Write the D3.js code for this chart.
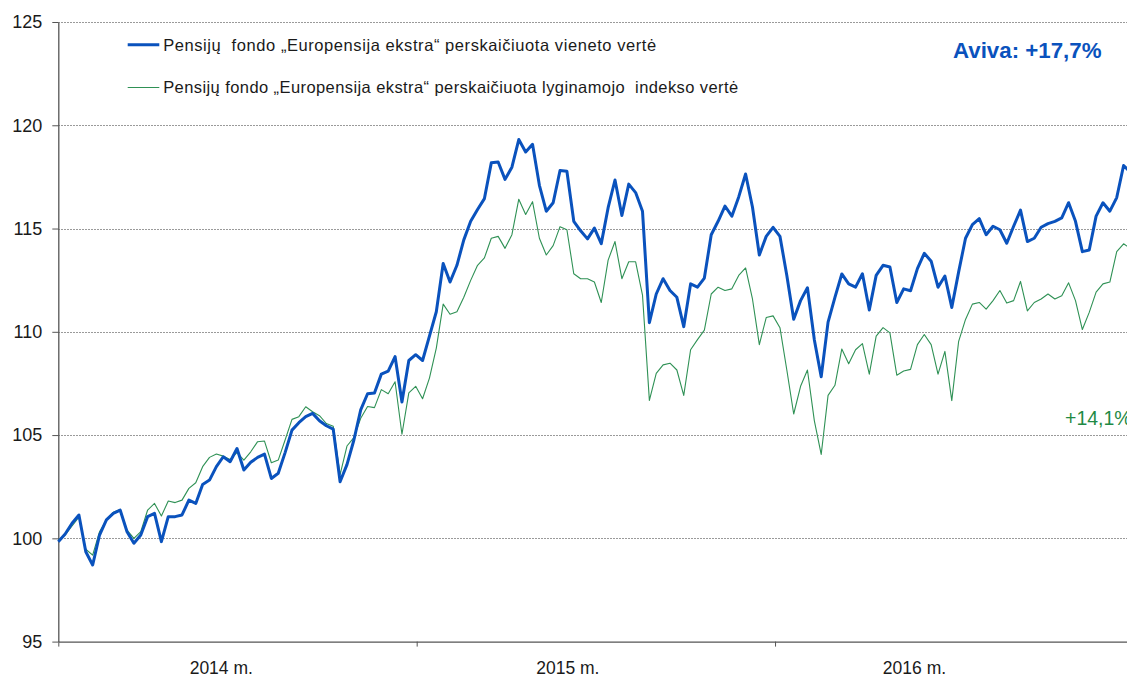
<!DOCTYPE html>
<html>
<head>
<meta charset="utf-8">
<script src="https://cdn.jsdelivr.net/npm/d3@7"></script>
<style>
  body { margin: 0; background: #fff; }
  svg { display: block; font-family: "Liberation Sans", Arial, sans-serif; }
</style>
</head>
<body>
<svg id="chart"></svg>
<script>
// weekly values, first week starts 2014-01-01
const startDate = new Date(2014, 0, 1);
const stepDays = 7;

// fund unit value (blue)
const fundValues = [
  99.84, 100.21, 100.73, 101.13, 99.35, 98.71, 100.16, 100.89, 101.21, 101.37,
  100.32, 99.76, 100.16, 101.05, 101.21, 99.84, 101.05, 101.05, 101.13, 101.85,
  101.69, 102.61, 102.82, 103.47, 103.95, 103.71, 104.35, 103.31, 103.68, 103.92,
  104.08, 102.90, 103.15, 104.15, 105.24, 105.60, 105.89, 106.05, 105.69, 105.45,
  105.29, 102.74, 103.57, 104.75, 106.22, 107.00, 107.04, 107.95, 108.10, 108.80,
  106.60, 108.61, 108.89, 108.61, 109.79, 110.97, 113.31, 112.41, 113.22, 114.45,
  115.35, 115.92, 116.45, 118.18, 118.22, 117.38, 117.97, 119.31, 118.71, 119.08,
  117.09, 115.84, 116.25, 117.81, 117.77, 115.35, 114.89, 114.50, 115.02, 114.27,
  116.01, 117.35, 115.63, 117.15, 116.74, 115.84, 110.44, 111.83, 112.57, 112.00,
  111.67, 110.25, 112.32, 112.16, 112.60, 114.70, 115.35, 116.09, 115.60, 116.53,
  117.64, 116.04, 113.72, 114.62, 115.06, 114.62, 112.73, 110.61, 111.51, 112.13,
  109.62, 107.82, 110.47, 111.67, 112.80, 112.32, 112.16, 112.81, 111.06, 112.73,
  113.22, 113.14, 111.42, 112.08, 111.99, 113.06, 113.80, 113.42, 112.16, 112.70,
  111.18, 112.90, 114.53, 115.19, 115.48, 114.70, 115.11, 114.94, 114.29, 115.11,
  115.89, 114.37, 114.53, 115.06, 115.24, 115.35, 115.52, 116.25, 115.35, 113.88,
  113.96, 115.60, 116.25, 115.84, 116.50, 118.05, 117.72
];

// benchmark index value (green)
const indexValues = [
  99.92, 100.16, 100.60, 101.02, 99.47, 99.19, 100.32, 100.89, 101.26, 101.40,
  100.40, 100.00, 100.32, 101.37, 101.69, 101.08, 101.81, 101.73, 101.85, 102.42,
  102.69, 103.47, 103.92, 104.08, 103.98, 103.82, 104.15, 103.79, 104.19, 104.68,
  104.71, 103.66, 103.79, 104.76, 105.76, 105.89, 106.37, 106.13, 105.94, 105.56,
  105.43, 103.08, 104.47, 104.88, 105.81, 106.38, 106.33, 107.20, 107.00, 107.58,
  105.04, 107.04, 107.36, 106.76, 107.76, 109.21, 111.34, 110.85, 110.97, 111.67,
  112.49, 113.22, 113.58, 114.53, 114.62, 114.04, 114.70, 116.42, 115.68, 116.30,
  114.53, 113.72, 114.17, 115.09, 114.94, 112.81, 112.57, 112.57, 112.41, 111.42,
  113.47, 114.37, 112.57, 113.39, 113.39, 111.78, 106.68, 107.99, 108.40, 108.48,
  108.15, 106.92, 109.13, 109.62, 110.08, 111.83, 112.16, 112.00, 112.08, 112.73,
  113.09, 111.59, 109.38, 110.69, 110.77, 110.20, 108.15, 106.02, 107.36, 108.15,
  105.70, 104.06, 106.92, 107.41, 109.17, 108.45, 109.13, 109.43, 107.95, 109.79,
  110.20, 109.95, 107.90, 108.10, 108.18, 109.38, 109.87, 109.38, 107.95, 109.05,
  106.67, 109.54, 110.60, 111.34, 111.42, 111.10, 111.51, 112.00, 111.39, 111.51,
  112.44, 111.01, 111.42, 111.59, 111.83, 111.59, 111.75, 112.37, 111.51, 110.11,
  110.94, 111.92, 112.32, 112.41, 113.88, 114.26, 114.04
];

const yTicks = [95, 100, 105, 110, 115, 120, 125];
const yearTicks = ["2014-01-01", "2015-01-01", "2016-01-01", "2017-01-01"];
const yearLabels = ["2014 m.", "2015 m.", "2016 m."];
const yearLabelDates = ["2014-06-16", "2015-06-04", "2016-05-22"];

const seriesNames = [
  "Pensijų  fondo „Europensija ekstra“ perskaičiuota vieneto vertė",
  "Pensijų fondo „Europensija ekstra“ perskaičiuota lyginamojo  indekso vertė"
];
const endNotes = ["Aviva: +17,7%", "+14,1%"];

const width = 1127, height = 677;
const margin = ({top: 22, right: 0, bottom: 35.4, left: 58.3});
const blueColor = "#0a52bd";
const greenColor = "#2f9155";
const axisColor = "#555";

const parse = d3.timeParse("%Y-%m-%d");
const dates = fundValues.map((v, i) => d3.timeDay.offset(startDate, i * stepDays));

const svg = d3.select("#chart")
    .attr("width", width)
    .attr("height", height)
    .attr("viewBox", [0, 0, width, height]);

let x = d3.scaleTime()
    .domain([parse(yearTicks[0]), parse(yearTicks[3])])
    .range([margin.left, margin.left + 358.7 * 3]);

let y = d3.scaleLinear()
    .domain([95, 125])
    .range([height - margin.bottom, margin.top]);

// dotted grid
svg.append("g")
    .attr("transform", `translate(${margin.left},0)`)
    .call(d3.axisLeft(y).tickValues(yTicks.slice(1)).tickSize(-(width - margin.left)).tickFormat(""))
    .call(g => g.select(".domain").remove())
    .selectAll("line")
    .attr("stroke", "#9a9a9a")
    .attr("stroke-dasharray", "2,1")
    .attr("shape-rendering", "crispEdges");

// y axis
const gy = svg.append("g")
    .attr("transform", `translate(${margin.left},0)`)
    .call(d3.axisLeft(y).tickValues(yTicks).tickSize(6).tickPadding(10).tickSizeOuter(0));
gy.select(".domain").attr("stroke", axisColor).attr("stroke-width", 1.3);
gy.selectAll("line").attr("stroke", axisColor);
gy.selectAll("text")
    .attr("fill", "#1a1a1a")
    .style("font-size", "18px");

// x axis
const gx = svg.append("g")
    .attr("transform", `translate(0,${y(95)})`)
    .call(d3.axisBottom(x).tickValues(yearTicks.map(parse)).tickSize(5).tickFormat("").tickSizeOuter(0));
gx.select(".domain").attr("stroke", axisColor).attr("stroke-width", 1.3);
gx.selectAll("line").attr("stroke", axisColor);

svg.append("g")
    .style("font-size", "17.5px")
    .attr("fill", "#1a1a1a")
    .attr("text-anchor", "middle")
    .selectAll("text")
    .data(yearLabels)
    .join("text")
    .attr("x", (d, i) => x(parse(yearLabelDates[i])))
    .attr("y", 674)
    .text(d => d);

// lines
const line = d3.line()
    .x((d, i) => x(dates[i]))
    .y(d => y(d));

svg.append("path")
    .datum(indexValues)
    .attr("fill", "none")
    .attr("stroke", greenColor)
    .attr("stroke-width", 1.1)
    .attr("stroke-linejoin", "round")
    .attr("d", line);

svg.append("path")
    .datum(fundValues)
    .attr("fill", "none")
    .attr("stroke", blueColor)
    .attr("stroke-width", 3)
    .attr("stroke-linejoin", "round")
    .attr("d", line);

// legend
const legendWidths = [493, 575];
const legend = svg.append("g")
    .selectAll("g")
    .data(seriesNames)
    .join("g")
    .attr("transform", (d, i) => `translate(127.7,${44.7 + i * 42.8})`);

legend.append("line")
    .attr("x1", 0)
    .attr("x2", 31.6)
    .attr("stroke", (d, i) => i === 0 ? blueColor : greenColor)
    .attr("stroke-width", (d, i) => i === 0 ? 3 : 1.1);

legend.append("text")
    .attr("x", 35.5)
    .attr("y", 0)
    .attr("dy", "0.36em")
    .attr("fill", "#1a1a1a")
    .attr("textLength", (d, i) => legendWidths[i])
    .attr("lengthAdjust", "spacing")
    .style("font-size", "16.5px")
    .style("white-space", "pre")
    .text(d => d);

// end notes
svg.append("text")
    .attr("x", 953)
    .attr("y", 57.7)
    .attr("fill", blueColor)
    .style("font-size", "22.3px")
    .style("font-weight", "bold")
    .text(endNotes[0]);

svg.append("text")
    .attr("x", 1065)
    .attr("y", 425)
    .attr("fill", "#1f8a45")
    .style("font-size", "19.5px")
    .text(endNotes[1]);
</script>
</body>
</html>
